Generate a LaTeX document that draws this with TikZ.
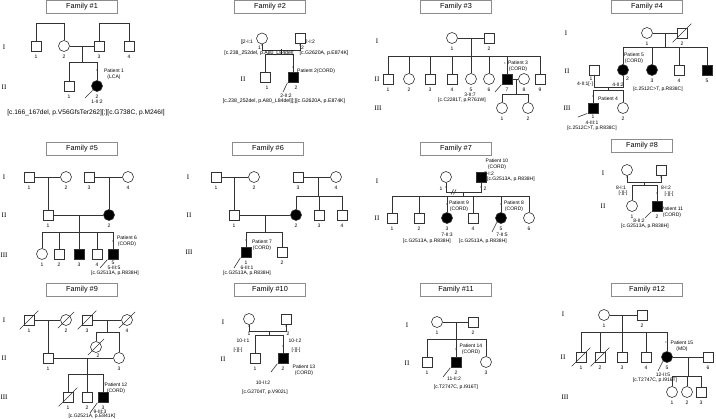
\documentclass[tikz,border=0pt]{standalone}
\usepackage{fontspec}
\setmainfont{Liberation Sans}
\newfontfamily\genserif{Liberation Serif}
\newcommand\lblfnt{\fontsize{5}{6}\selectfont}
\newcommand\varfnt{\fontsize{6.6}{7}\selectfont}
\newcommand\ttlfnt{\fontsize{7.3}{8}\selectfont}
\newcommand\genfnt{\genserif\fontsize{7}{8}\selectfont}
\newcommand\mkfnt{\fontsize{3}{3}\selectfont}
\tikzset{
  ln/.style={draw=black!80, line width=0.6pt},
  prb/.style={ln, shorten >=0.5pt},
  male/.style={rectangle, draw=black!80, line width=0.6pt, minimum size=10pt, inner sep=0pt},
  female/.style={circle, draw=black!80, line width=0.6pt, minimum size=11pt, inner sep=0pt},
  aff/.style={fill=black},
  txt/.style={font=\lblfnt, inner sep=0pt, align=center},
  mk/.style={font=\mkfnt, inner sep=0pt, text=black!80},
  gen/.style={font=\genfnt, inner sep=0pt},
  famtitle/.style={draw=black!45, line width=0.5pt, minimum width=71pt, minimum height=12.5pt, inner sep=0pt, font=\ttlfnt}
}
\begin{document}
\begin{tikzpicture}[x=1pt, y=-1pt, label distance=3pt,
    every label/.style={font=\lblfnt, inner sep=0.5pt}]
\fill[white] (0,0) rectangle (716,419);
\useasboundingbox (0,0) rectangle (716,419);

% Family 1
\node[famtitle] (t1) at (82,7) {Family \#1};
\node[gen] (g1a) at (4,47) {I};
\node[gen] (g1b) at (4,87) {II};
\node[male, label=below:1] (f1a1) at (36,46) {};
\node[female, label=below:2] (f1a2) at (64,46) {};
\node[male, label=below:3] (f1a3) at (99,46) {};
\node[male, label=below:4] (f1a4) at (129,46) {};
\node[male, label=below:1] (f1b1) at (69,86) {};
\node[female, aff, label=below:2] (f1b2) at (97,86) {};
\coordinate (f1m) at (82,46);
\coordinate (f1s) at (82,63);
\draw[ln] (f1a1.north) -- ++(0,-17) -| (f1a2.north);
\draw[ln] (f1a3.north) -- ++(0,-17) -| (f1a4.north);
\draw[ln] (f1a2) -- (f1a3);
\draw[ln] (f1m) -- (f1s);
\draw[ln] (f1b1.north) -- ++(0,-18) -| (f1b2.north);
\node[mk] (f1k) at (97,71) {±};
\node[txt] (f1pt) at (114,74) {Patient 1\\(LCA)};
\node[txt] (f1id) at (97,102) {1-II:2};
\node[txt, font=\varfnt] (f1v) at (86,113) {[c.166\_167del, p.V56GfsTer262][;][c.G738C, p.M246I]};
\coordinate (f1p) at (85,98);
\draw[prb] (f1p) -- (f1b2.south west);

% Family 2
\node[famtitle] (t2) at (270,7) {Family \#2};
\node[gen] (g2a) at (242,42) {I};
\node[gen] (g2b) at (243,79) {II};
\node[female] (f2a1) at (262,38.5) {};
\node[male] (f2a2) at (300,38.5) {};
\node[txt] (f2n1) at (259.5,47.5) {1};
\node[txt] (f2n2) at (302.5,47.5) {2};
\node[mk] (f2k1) at (262,45.5) {±};
\node[mk] (f2k2) at (300,45.5) {±};
\node[txt] (f2id1) at (248,42) {2-I:1};
\node[txt] (f2id2) at (310,42) {2-I:2};
\node[male] (f2b1) at (265,77) {};
\node[male, aff] (f2b2) at (293,77) {};
\node[txt] (f2n3) at (267,88) {1};
\node[txt] (f2n4) at (296,88) {2};
\coordinate (f2m) at (281,49.5);
\coordinate (f2s) at (281,55);
\draw[ln] (f2a1.south) -- ++(0,6) -| (f2a2.south);
\draw[ln] (f2m) -- (f2s);
\draw[ln] (f2b1.north) -- ++(0,-17) -| (f2b2.north);
\node[txt, font=\fontsize{5.2}{6}\selectfont] (f2v1) at (259,53) {[c.238\_252del, p.A80\_L84del]};
\node[txt, font=\fontsize{5.2}{6}\selectfont] (f2v2) at (324,53) {[c.G2620A, p.E874K]};
\node[mk] (f2k3) at (293,68) {±};
\node[txt, anchor=west] (f2pt) at (297,71) {Patient 2(CORD)};
\node[txt] (f2id) at (286,95.5) {2-II:2};
\node[txt, font=\fontsize{5.2}{6}\selectfont] (f2v) at (284,101) {[c.238\_252del, p.A80\_L84del][;][c.G2620A, p.E874K]};
\coordinate (f2p) at (283,92);
\draw[prb] (f2p) -- (f2b2.south west);

% Family 3
\node[famtitle] (t3) at (456,7) {Family \#3};
\node[gen] (g3a) at (377,41) {I};
\node[gen] (g3b) at (377,79) {II};
\node[gen] (g3c) at (378,108) {III};
\node[female, label=below:1] (f3a1) at (452,38) {};
\node[male, label=below:2] (f3a2) at (489,38) {};
\node[male, label=below:1] (f3b1) at (388,79) {};
\node[female, label=below:2] (f3b2) at (409,79) {};
\node[male, label=below:3] (f3b3) at (430,79) {};
\node[male, label=below:4] (f3b4) at (452,79) {};
\node[female, label=below:5] (f3b5) at (471,79) {};
\node[female, label=below:6] (f3b6) at (489,79) {};
\node[male, aff, label=below:7] (f3b7) at (507,79) {};
\node[female, label=below:8] (f3b8) at (524,79) {};
\node[male, label=below:9] (f3b9) at (540,79) {};
\node[female, label=below:1] (f3c1) at (502,108) {};
\node[female, label=below:2] (f3c2) at (528,108) {};
\coordinate (f3m) at (471,38);
\coordinate (f3s) at (471,57);
\coordinate (f3m2) at (516,79);
\coordinate (f3s2) at (516,95);
\draw[ln] (f3a1) -- (f3a2);
\draw[ln] (f3m) -- (f3s);
\draw[ln] (f3b1.north) -- ++(0,-17) -| (f3b9.north);
\foreach \k in {2,...,7}
  \draw[ln] (f3b\k.north) -- (f3b\k.north |- f3s);
\draw[ln] (f3b7) -- (f3b8);
\draw[ln] (f3m2) -- (f3s2);
\draw[ln] (f3c1.north) -- ++(0,-7.5) -| (f3c2.north);
\node[mk] (f3k) at (505,64) {±};
\node[txt] (f3pt) at (518,66.5) {Patient 3\\(CORD)};
\node[txt] (f3id) at (470,95) {3-II:7};
\node[txt] (f3v) at (462,100.5) {[c.C2281T, p.R761W]};
\coordinate (f3p) at (495,92);
\draw[prb] (f3p) -- (f3b7.south west);

% Family 4
\node[famtitle] (t4) at (647,7) {Family \#4};
\node[gen] (g4a) at (566,33) {I};
\node[gen] (g4b) at (567,71) {II};
\node[gen] (g4c) at (567,108) {III};
\node[female, label=below:1] (f4a1) at (647,33) {};
\node[male, label=below:2] (f4a2) at (682,33) {};
\node[male] (f4b1) at (594,70) {};
\node[female, aff] (f4b2) at (623,70) {};
\node[female, aff, label=below:3] (f4b3) at (652,70) {};
\node[male, label=below:4] (f4b4) at (679,70) {};
\node[male, aff, label=below:5] (f4b5) at (707,70) {};
\node[male, aff] (f4c1) at (593,108) {};
\node[female, label=below:2] (f4c2) at (623,108) {};
\node[txt] (f4n1) at (591,79) {1};
\node[txt] (f4n2) at (627.5,79) {2};
\node[txt] (f4n3) at (593,117) {1};
\coordinate (f4m) at (665,33);
\coordinate (f4s) at (665,48);
\coordinate (f4m2) at (608,87);
\coordinate (f4s2) at (608,91);
\draw[ln] (f4a1) -- (f4a2);
\draw[ln] (f4m) -- (f4s);
\draw[ln] (f4b2.north) -- ++(0,-16.5) -| (f4b5.north);
\draw[ln] (f4b3.north) -- (f4b3.north |- f4s);
\draw[ln] (f4b4.north) -- (f4b4.north |- f4s);
\draw[ln] (f4b1.south) -- ++(0,12) -| (f4b2.south);
\draw[ln] (f4m2) -- (f4s2);
\draw[ln] (f4c1.north) -- ++(0,-12) -| (f4c2.north);
\node[txt] (f4pt5) at (634,58.5) {Patient 5\\(CORD)};
\node[txt] (f4id1) at (585,84) {4-II:1[-]};
\node[txt] (f4id2) at (618,84.5) {4-II:2};
\node[txt] (f4v1) at (658,89.5) {[c.2512C>T, p.R838C]};
\node[mk] (f4k) at (593,97) {±};
\node[txt] (f4pt4) at (608,99) {Patient 4};
\node[txt] (f4id) at (592,122.5) {4-III:1};
\node[txt] (f4v) at (592,128) {[c.2512C>T, p.R838C]};
\coordinate (f4p) at (578,117);
\draw[prb] (f4p) -- (f4c1.south west);

% Family 5
\node[famtitle] (t5) at (82,149) {Family \#5};
\node[gen] (g5a) at (4,177) {I};
\node[gen] (g5b) at (4,215) {II};
\node[gen] (g5c) at (4,255) {III};
\node[male, label=below:1] (f5a1) at (29,177) {};
\node[female, label=below:2] (f5a2) at (66,177) {};
\node[male, label=below:3] (f5a3) at (89,177) {};
\node[female, label=below:4] (f5a4) at (128,177) {};
\node[male, label=below:1] (f5b1) at (48,215) {};
\node[female, aff, label=below:2] (f5b2) at (109,215) {};
\node[female, label=below:1] (f5c1) at (42,254) {};
\node[male, label=below:2] (f5c2) at (59,254) {};
\node[male, aff, label=below:3] (f5c3) at (79,254) {};
\node[male, label=below:4] (f5c4) at (97,254) {};
\node[male, aff] (f5c5) at (113,254) {};
\node[txt] (f5n5) at (113,262.5) {5};
\coordinate (f5m1) at (48,177);
\coordinate (f5m2) at (109,177);
\coordinate (f5m3) at (79,215);
\coordinate (f5s) at (79,233);
\draw[ln] (f5a1) -- (f5a2);
\draw[ln] (f5a3) -- (f5a4);
\draw[ln] (f5m1) -- (f5b1.north);
\draw[ln] (f5m2) -- (f5b2.north);
\draw[ln, line width=0.9pt] (f5b1) -- (f5b2);
\draw[ln] (f5m3) -- (f5c3.north);
\draw[ln] (f5c1.north) -- ++(0,-15.5) -| (f5c5.north);
\draw[ln] (f5c2.north) -- (f5c2.north |- f5s);
\draw[ln] (f5c4.north) -- (f5c4.north |- f5s);
\node[mk] (f5k) at (113,242) {±};
\node[txt] (f5pt) at (127,241) {Patient 6\\(CORD)};
\node[txt] (f5id) at (114,268) {5-III:5};
\node[txt] (f5v) at (115,273.5) {[c.G2513A, p.R838H]};
\coordinate (f5p) at (100,268);
\draw[prb] (f5p) -- (f5c5.south west);

% Family 6
\node[famtitle] (t6) at (268,149) {Family \#6};
\node[gen] (g6a) at (188,177) {I};
\node[gen] (g6b) at (189,215) {II};
\node[gen] (g6c) at (189,252) {III};
\node[male, label=below:1] (f6a1) at (216,177) {};
\node[female, label=below:2] (f6a2) at (254,177) {};
\node[male, label=below:3] (f6a3) at (298,177) {};
\node[female, label=below:4] (f6a4) at (336,177) {};
\node[male, label=below:1] (f6b1) at (234,215) {};
\node[female, aff, label=below:2] (f6b2) at (296,215) {};
\node[male, label=below:3] (f6b3) at (319,215) {};
\node[male, label=below:4] (f6b4) at (342,215) {};
\node[male, aff, label=below:1] (f6c1) at (246,252) {};
\node[male, label=below:2] (f6c2) at (282,252) {};
\coordinate (f6m1) at (234,177);
\coordinate (f6m2) at (318,177);
\coordinate (f6s2) at (318,197);
\coordinate (f6m3) at (265,215);
\coordinate (f6s3) at (265,233);
\draw[ln] (f6a1) -- (f6a2);
\draw[ln] (f6a3) -- (f6a4);
\draw[ln] (f6m1) -- (f6b1.north);
\draw[ln] (f6m2) -- (f6s2);
\draw[ln] (f6b2.north) -- ++(0,-12.5) -| (f6b4.north);
\draw[ln] (f6b3.north) -- (f6b3.north |- f6s2);
\draw[ln] (f6b1) -- (f6b2);
\draw[ln] (f6m3) -- (f6s3);
\draw[ln] (f6c1.north) -- ++(0,-14) -| (f6c2.north);
\node[mk] (f6k) at (246,241) {±};
\node[txt] (f6pt) at (262,245) {Patient 7\\(CORD)};
\node[txt] (f6id) at (247,267.5) {6-III:1};
\node[txt] (f6v) at (247,273) {[c.G2513A, p.R838H]};
\coordinate (f6p) at (234,268);
\draw[prb] (f6p) -- (f6c1.south west);

% Family 7
\node[famtitle] (t7) at (456,149) {Family \#7};
\node[gen] (g7a) at (377,181) {I};
\node[gen] (g7b) at (377,218) {II};
\node[female] (f7a1) at (446,177) {};
\node[male, aff] (f7a2) at (481,177) {};
\node[txt] (f7n1) at (441,189) {1};
\node[txt] (f7n2) at (485,189) {2};
\node[mk] (f7k1) at (446,188) {±};
\node[mk] (f7k2) at (481,188) {±};
\node[male, label=below:1] (f7b1) at (392,218) {};
\node[male, label=below:2] (f7b2) at (419,218) {};
\node[female, aff, label=below:3] (f7b3) at (447,218) {};
\node[male, label=below:4] (f7b4) at (473,218) {};
\node[female, aff, label=below:5] (f7b5) at (501,218) {};
\node[female, label=below:6] (f7b6) at (529,218) {};
\coordinate (f7m) at (463,192);
\coordinate (f7s) at (463,197);
\draw[ln] (f7a1.south) -- ++(0,9.5) -| (f7a2.south);
\draw[ln] (451,194.5) -- (453.5,189.5);
\draw[ln] (453.5,194.5) -- (456,189.5);
\draw[ln] (f7m) -- (f7s);
\draw[ln] (f7b1.north) -- ++(0,-16) -| (f7b6.north);
\foreach \k in {2,...,5}
  \draw[ln] (f7b\k.north) -- (f7b\k.north |- f7s);
\node[txt] (f7pt10) at (497,164) {Patient 10\\(CORD)};
\node[txt] (f7id1) at (489,173.5) {7-I:2};
\node[txt, anchor=west] (f7v1) at (487,179) {[c.G2513A, p.R838H]};
\node[mk] (f7k3) at (447,205) {±};
\node[txt] (f7pt9) at (459,206.5) {Patient 9\\(CORD)};
\node[mk] (f7k4) at (501,205) {±};
\node[txt] (f7pt8) at (514,206.5) {Patient 8\\(CORD)};
\node[txt] (f7id3) at (447,235) {7-II:3};
\node[txt] (f7v3) at (427,241) {[c.G2513A, p.R838H]};
\node[txt] (f7id5) at (502,235) {7-II:5};
\node[txt] (f7v5) at (483,241) {[c.G2513A, p.R838H]};
\coordinate (f7p) at (492,232);
\draw[prb] (f7p) -- (f7b5.south west);

% Family 8
\node[famtitle, minimum width=61pt] (t8) at (642,146) {Family \#8};
\node[gen] (g8a) at (603,173) {I};
\node[gen] (g8b) at (603,206) {II};
\node[female] (f8a1) at (627,170) {};
\node[male] (f8a2) at (661,170) {};
\node[mk] (f8k1) at (627,178) {±};
\node[mk] (f8k2) at (661,178) {±};
\node[female, label=below:1] (f8b1) at (632,206) {};
\node[male, aff, label=below:2] (f8b2) at (657,206) {};
\coordinate (f8m) at (644,182);
\coordinate (f8s) at (644,186);
\draw[ln] (f8a1.south) -- ++(0,6.5) -| (f8a2.south);
\draw[ln] (f8m) -- (f8s);
\draw[ln] (f8b1.north) -- ++(0,-14.5) -| (f8b2.north);
\node[txt] (f8id1) at (621,188) {8-I:1};
\node[txt] (f8g1) at (623,193.5) {[-][-]};
\node[txt] (f8id2) at (666,188) {8-I:2};
\node[txt] (f8g2) at (669,194) {[-][-]};
\node[mk] (f8k3) at (657,194) {±};
\node[txt] (f8pt) at (672,212.5) {Patient 11\\(CORD)};
\node[txt] (f8id) at (639,221) {8-II:2};
\node[txt] (f8v) at (645,226.5) {[c.G2513A, p.R838H]};
\coordinate (f8p) at (645,218);
\draw[prb] (f8p) -- (f8b2.south west);

% Family 9
\node[famtitle] (t9) at (82,290) {Family \#9};
\node[gen] (g9a) at (4,320) {I};
\node[gen] (g9b) at (4,358) {II};
\node[gen] (g9c) at (4,397) {III};
\node[male, label=below:1] (f9a1) at (29,320) {};
\node[female, label=below:2] (f9a2) at (66,320) {};
\node[male, label=below:3] (f9a3) at (87,320) {};
\node[female, label=below:4] (f9a4) at (127,320) {};
\node[male, label=below:1] (f9b1) at (48,358) {};
\node[female] (f9b2) at (96,347) {};
\node[txt] (f9n2) at (98,355.5) {2};
\node[female, label=below:3] (f9b3) at (119,358) {};
\node[male, label=below:1] (f9c1) at (68,397) {};
\node[male, label=below:2] (f9c2) at (87,397) {};
\node[male, aff, label=below:3] (f9c3) at (103,397) {};
\coordinate (f9m1) at (48,320);
\coordinate (f9m2) at (107,320);
\coordinate (f9s2) at (107,333);
\coordinate (f9m3) at (87,358);
\coordinate (f9s3) at (87,375);
\draw[ln] (f9a1) -- (f9a2);
\draw[ln] (f9a3) -- (f9a4);
\draw[ln] (f9m1) -- (f9b1.north);
\draw[ln] (f9m2) -- (f9s2);
\draw[ln] (f9b2.north) -- ++(0,-8.5) -| (f9b3.north);
\draw[ln] (f9b1) -- (f9b3);
\draw[ln] (f9m3) -- (f9c2.north);
\draw[ln] (f9c1.north) -- ++(0,-17) -| (f9c3.north);
\node[mk] (f9k) at (104,384) {±};
\node[txt] (f9pt) at (116,388.5) {Patient 12\\(CORD)};
\node[txt] (f9id) at (100,411.5) {9-III:3};
\node[txt] (f9v) at (92,416.5) {[c.G2521A, p.E841K]};
\coordinate (f9p) at (90,413);
\draw[prb] (f9p) -- (f9c3.south west);

% Family 10
\node[famtitle] (t10) at (270,290) {Family \#10};
\node[gen] (g10a) at (223,322) {I};
\node[gen] (g10b) at (223,359) {II};
\node[female] (f10a1) at (249,319) {};
\node[male] (f10a2) at (286,319) {};
\node[mk] (f10k1) at (249,327) {±};
\node[mk] (f10k2) at (286,327) {±};
\node[txt] (f10n1) at (249,334) {1};
\node[txt] (f10n2) at (288,334) {2};
\node[male, label=below:1] (f10b1) at (255,358) {};
\node[male, aff, label=below:2] (f10b2) at (283,358) {};
\coordinate (f10m) at (269,331);
\coordinate (f10s) at (269,336);
\draw[ln] (f10a1.south) -- ++(0,6.5) -| (f10a2.south);
\draw[ln] (f10m) -- (f10s);
\draw[ln] (f10b1.north) -- ++(0,-17) -| (f10b2.north);
\node[txt] (f10id1) at (243,341) {10-I:1};
\node[txt] (f10g1) at (238,350) {[-][-]};
\node[txt] (f10id2) at (295,341) {10-I:2};
\node[txt] (f10g2) at (296,350) {[-][-]};
\node[mk] (f10k3) at (283,347) {±};
\node[txt] (f10pt) at (304,370) {Patient 13\\(CORD)};
\node[txt] (f10id) at (263,382.5) {10-II:2};
\node[txt] (f10v) at (265,392) {[c.G2704T, p.V902L]};
\coordinate (f10p) at (271,372);
\draw[prb] (f10p) -- (f10b2.south west);

% Family 11
\node[famtitle] (t11) at (456,290) {Family \#11};
\node[gen] (g11a) at (407,325) {I};
\node[gen] (g11b) at (407,363) {II};
\node[female, label=below:1] (f11a1) at (437,322) {};
\node[male, label=below:2] (f11a2) at (473,322) {};
\node[male, label=below:1] (f11b1) at (427,362) {};
\node[male, aff, label=below:2] (f11b2) at (456,362) {};
\node[female, label=below:3] (f11b3) at (486,362) {};
\coordinate (f11m) at (456,322);
\coordinate (f11s) at (456,340);
\draw[ln] (f11a1) -- (f11a2);
\draw[ln] (f11m) -- (f11b2.north);
\draw[ln] (f11b1.north) -- ++(0,-17) -| (f11b3.north);
\node[mk] (f11k) at (456,350) {±};
\node[txt] (f11pt) at (471,349) {Patient 14\\(CORD)};
\node[txt] (f11id) at (454,378.5) {11-II:2};
\node[txt] (f11v) at (456,387) {[c.T2747C, p.I916T]};
\coordinate (f11p) at (443,377);
\draw[prb] (f11p) -- (f11b2.south west);

% Family 12
\node[famtitle] (t12) at (647,290) {Family \#12};
\node[gen] (g12a) at (563,314) {I};
\node[gen] (g12b) at (563,357) {II};
\node[gen] (g12c) at (565,397) {III};
\node[female, label=below:1] (f12a1) at (604,315) {};
\node[male, label=below:2] (f12a2) at (642,315) {};
\node[male, label=below:1] (f12b1) at (581,357) {};
\node[male, label=below:2] (f12b2) at (600,357) {};
\node[male, label=below:3] (f12b3) at (622,357) {};
\node[male, label=below:4] (f12b4) at (646,357) {};
\node[female, aff, label=below:5] (f12b5) at (667,357) {};
\node[male, label=below:6] (f12b6) at (708,357) {};
\node[female, label=below:1] (f12c1) at (672,392) {};
\node[female, label=below:2] (f12c2) at (687,392) {};
\node[male, label=below:3] (f12c3) at (701,392) {};
\coordinate (f12m) at (622,315);
\coordinate (f12s) at (622,333);
\coordinate (f12m2) at (688,357);
\coordinate (f12s2) at (688,377);
\draw[ln] (f12a1) -- (f12a2);
\draw[ln] (f12m) -- (f12s);
\draw[ln] (f12b1.north) -- ++(0,-19) -| (f12b5.north);
\foreach \k in {2,3,4}
  \draw[ln] (f12b\k.north) -- (f12b\k.north |- f12s);
\draw[ln] (f12b5) -- (f12b6);
\draw[ln] (f12m2) -- (f12s2);
\draw[ln] (f12c1.north) -- ++(0,-9.5) -| (f12c3.north);
\draw[ln] (f12c2.north) -- (f12c2.north |- f12s2);
\node[mk] (f12k) at (666,343) {±};
\node[txt] (f12pt) at (682,346) {Patient 15\\(MD)};
\node[txt] (f12id) at (663,375) {12-II:5};
\node[txt] (f12v) at (655,380.5) {[c.T2747C, p.I916T]};
\coordinate (f12p) at (658,371);
\draw[prb] (f12p) -- (f12b5.south west);

% deceased
\foreach \n in {f4a2,f9a1,f9a2,f9a3,f9a4,f9b2,f9c1,f12b1,f12b2}
  \draw[ln] ([shift={(-4pt,-4pt)}]\n.south west) -- ([shift={(4pt,4pt)}]\n.north east);
\end{tikzpicture}
\end{document}
